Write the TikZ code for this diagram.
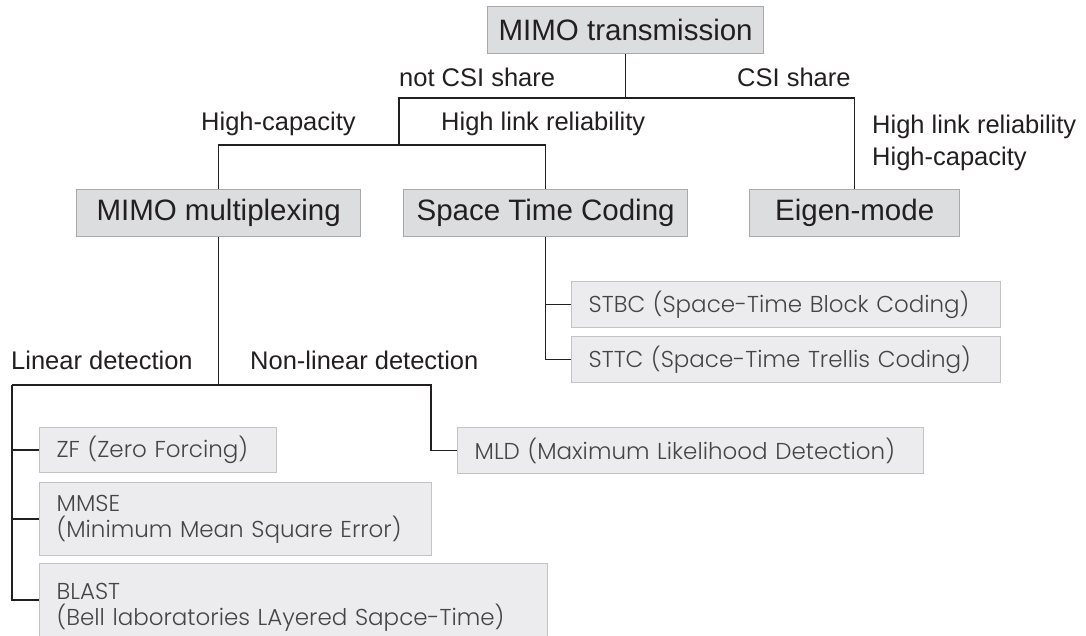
\documentclass[tikz,border=0pt]{standalone}
\usepackage{fontspec}
\setmainfont{Liberation Sans}
\newfontfamily\boxfont{Poppins Light}
\definecolor{bigfill}{HTML}{DCDDDF}
\definecolor{bigdraw}{HTML}{A9A9AB}
\definecolor{smallfill}{HTML}{ECECEE}
\definecolor{smalldraw}{HTML}{C3C3C5}
\definecolor{ink}{HTML}{231F20}
\definecolor{softink}{HTML}{454545}
\tikzset{
  bigbox/.style={draw=bigdraw, fill=bigfill, line width=1.3pt, anchor=north west,
    inner sep=0pt, minimum height=47pt, text=ink,
    font=\fontsize{29.5}{34}\selectfont},
  smallbox/.style={draw=smalldraw, fill=smallfill, line width=1.3pt, anchor=north west,
    inner xsep=17pt, inner ysep=0pt, align=left, text=softink,
    font=\boxfont\fontsize{23}{26}\selectfont},
  lbl/.style={anchor=base west, inner sep=0pt, text=ink,
    font=\fontsize{25.5}{30}\selectfont},
  wire/.style={draw=ink, line width=1.5pt}
}
\begin{document}
\begin{tikzpicture}[x=1pt, y=-1pt]
\useasboundingbox (0,0) rectangle (1086,635);

% main boxes
\node[bigbox, minimum width=276pt] (top) at (487,6) {MIMO transmission};
\node[bigbox, minimum width=284pt] (mux) at (76,189) {MIMO multiplexing};
\node[bigbox, minimum width=284pt] (stc) at (403,189) {Space Time Coding};
\node[bigbox, minimum width=210pt] (eig) at (749,189) {Eigen-mode};

% technique boxes
\node[smallbox, text width=395pt, minimum height=46pt] (stbc) at (571,281) {STBC (Space-Time Block Coding)};
\node[smallbox, text width=395pt, minimum height=46pt] (sttc) at (571,336) {STTC (Space-Time Trellis Coding)};
\node[smallbox, text width=203pt, minimum height=45pt] (zf) at (39,427) {ZF (Zero Forcing)};
\node[smallbox, text width=358pt, minimum height=73pt] (mmse) at (39,482) {MMSE\\(Minimum Mean Square Error)};
\node[smallbox, text width=474pt, minimum height=88pt] (blast) at (39,563) {BLAST\\\mbox{(Bell laboratories LAyered Sapce-Time)}\\[18pt]};
\node[smallbox, text width=432pt, minimum height=46pt] (mld) at (457,427) {MLD (Maximum Likelihood Detection)};

% branch labels
\node[lbl] (lnocsi) at (399,86) {not CSI share};
\node[lbl] (lcsi) at (737,86) {CSI share};
\node[lbl] (lcap) at (201,130) {High-capacity};
\node[lbl] (lrel) at (441,130) {High link reliability};
\node[lbl] (rrel) at (872,133) {High link reliability};
\node[lbl] (rcap) at (872,165) {High-capacity};
\node[lbl] (llin) at (11,369) {Linear detection};
\node[lbl] (lnon) at (250,369) {Non-linear detection};

% junction points
\coordinate (csi) at (399,98);
\coordinate (cap) at (399,145);
\coordinate (det) at (12,385);
\coordinate (nld) at (431,385);

% top level split
\draw[wire] (top.south) -- (top.south |- csi);
\draw[wire] (cap) -- (csi) -- (csi -| eig.north) -- (eig.north);
\draw[wire] (mux.north) -- (mux.north |- cap) -- (stc.north |- cap) -- (stc.north);

% space time coding branch
\draw[wire] (stc.south) -- (stc.south |- sttc.west) -- (sttc.west);
\draw[wire] (stc.south |- stbc.west) -- (stbc.west);

% detection branch
\draw[wire] (mux.south) -- (mux.south |- det);
\draw[wire] (det) -- (nld) -- (nld |- mld.west) -- (mld.west);
\draw[wire] (det) -- (det |- 0,600) -- (39,600);
\draw[wire] (det |- zf.west) -- (zf.west);
\draw[wire] (det |- mmse.west) -- (mmse.west);
\end{tikzpicture}
\end{document}
